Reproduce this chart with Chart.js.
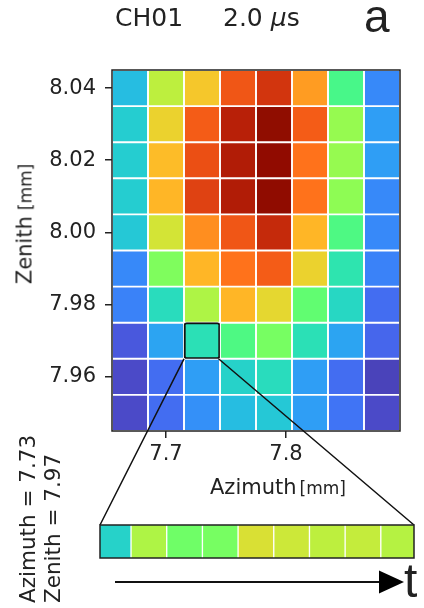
<!DOCTYPE html>
<html>
<head>
<meta charset="utf-8">
<script src="https://cdn.jsdelivr.net/npm/chart.js@4"></script>
<style>
  html, body { margin: 0; padding: 0; background: #fff; }
  #page { position: relative; width: 424px; height: 608px; overflow: hidden; font-family: "DejaVu Sans", sans-serif; color: #222; }
  canvas { position: absolute; }
  #mapCanvas { left: 0; top: 0; z-index: 1; }
  #stripCanvas { left: 96px; top: 521px; z-index: 2; }
  .txt { position: absolute; white-space: nowrap; line-height: 1; z-index: 3; }
</style>
</head>
<body>
<div id="page">
  <canvas id="mapCanvas" width="424" height="608"></canvas>
  <canvas id="stripCanvas" width="322" height="41"></canvas>

  <div class="txt" style="left:115px; top:5px; font-size:25px;">CH01</div>
  <div class="txt" style="left:223px; top:5px; font-size:25px;">2.0 <i>μ</i>s</div>
  <div class="txt" style="left:364px; top:-7px; font-size:46px; font-family:'Liberation Sans', Arial, sans-serif;">a</div>

  <div class="txt" style="left:25px; top:224px; font-size:21px; transform:translate(-50%,-50%) rotate(-90deg);">Zenith<span style="font-size:17px; margin-left:6px;">[mm]</span></div>
  <div class="txt" style="left:210px; top:477px; font-size:21px;">Azimuth<span style="font-size:17px; margin-left:3px;">[mm]</span></div>

  <div class="txt" style="left:15px; top:603px; font-size:21.5px; line-height:25px; transform-origin:0 0; transform:rotate(-90deg);">Azimuth = 7.73<br>Zenith = 7.97</div>

  <div class="txt" style="left:404px; top:557px; font-size:48px; font-family:'Liberation Sans', Arial, sans-serif;">t</div>
</div>

<script>
    // --- DADOS ---
    const azimuth = [7.67, 7.70, 7.73, 7.76, 7.79, 7.82, 7.85, 7.88];
    const zenith = [8.04, 8.03, 8.02, 8.01, 8.00, 7.99, 7.98, 7.97, 7.96, 7.95];
    // intensidade normalizada (0..1), uma linha por zenith, de cima para baixo
    const intensity = [
        [0.25, 0.55, 0.64, 0.81, 0.86, 0.71, 0.39, 0.17],
        [0.28, 0.62, 0.80, 0.90, 1.00, 0.80, 0.50, 0.20],
        [0.28, 0.66, 0.82, 0.91, 0.98, 0.77, 0.50, 0.20],
        [0.28, 0.67, 0.84, 0.91, 0.99, 0.77, 0.49, 0.17],
        [0.27, 0.58, 0.73, 0.81, 0.88, 0.67, 0.40, 0.17],
        [0.17, 0.47, 0.67, 0.77, 0.80, 0.62, 0.33, 0.16],
        [0.16, 0.31, 0.53, 0.67, 0.61, 0.43, 0.30, 0.13],
        [0.10, 0.21, 0.32, 0.40, 0.46, 0.32, 0.21, 0.12],
        [0.08, 0.13, 0.20, 0.29, 0.31, 0.20, 0.13, 0.07],
        [0.08, 0.13, 0.18, 0.25, 0.27, 0.20, 0.14, 0.08]
    ];
    const xTicks = [7.7, 7.8];
    const yTicks = [7.96, 7.98, 8.00, 8.02, 8.04];
    const selAzimuth = 7.73;
    const selZenith = 7.97;
    // série temporal do pixel selecionado
    const timeSteps = [0, 1, 2, 3, 4, 5, 6, 7, 8];
    const stripValues = [0.29, 0.53, 0.45, 0.46, 0.59, 0.57, 0.55, 0.56, 0.54];

    // --- COLORMAP (turbo) ---
    function turbo(v) {
        const x = Math.max(0, Math.min(1, v));
        const r = 0.13572138 + x * (4.61539260 + x * (-42.66032258 + x * (132.13108234 + x * (-152.94239396 + x * 59.28637943))));
        const g = 0.09140261 + x * (2.19418839 + x * (4.84296658 + x * (-14.18503333 + x * (4.27729857 + x * 2.82956604))));
        const b = 0.10667330 + x * (12.64194608 + x * (-60.58204836 + x * (110.36276771 + x * (-89.90310912 + x * 27.34824973))));
        const c = t => Math.round(Math.max(0, Math.min(1, t)) * 255);
        return `rgb(${c(r)},${c(g)},${c(b)})`;
    }

    const dAz = azimuth[1] - azimuth[0];
    const dZe = zenith[0] - zenith[1];

    const cells = [];
    zenith.forEach((ze, r) => {
        azimuth.forEach((az, c) => {
            cells.push({ x: az, y: [ze - dZe / 2, ze + dZe / 2], v: intensity[r][c] });
        });
    });
    const isSel = p => p && Math.abs(p.x - selAzimuth) < 1e-6 && Math.abs((p.y[0] + p.y[1]) / 2 - selZenith) < 1e-6;

    const framePlugin = {
        id: 'frame',
        afterDatasetsDraw(chart) {
            const a = chart.chartArea, ctx = chart.ctx;
            ctx.save();
            ctx.strokeStyle = '#222';
            ctx.lineWidth = 1.5;
            ctx.strokeRect(a.left, a.top, a.right - a.left, a.bottom - a.top);
            ctx.restore();
        }
    };

    // --- FAIXA TEMPORAL ---
    const stripChart = new Chart(document.getElementById('stripCanvas'), {
        type: 'bar',
        data: {
            datasets: [{
                data: timeSteps.map(t => ({ x: t, y: [0, 1] })),
                backgroundColor: stripValues.map(turbo),
                borderColor: '#ffffff',
                borderWidth: { left: 1, right: 1, top: 0, bottom: 0 },
                borderSkipped: false,
                categoryPercentage: 1,
                barPercentage: 1
            }]
        },
        options: {
            responsive: false,
            animation: false,
            layout: { padding: 4 },
            plugins: { legend: { display: false }, tooltip: { enabled: false } },
            scales: {
                x: { type: 'linear', min: -0.37, max: 8.43, offset: false, display: false },
                y: { min: 0, max: 1, display: false }
            }
        },
        plugins: [framePlugin]
    });

    // linhas de zoom e seta do tempo
    const zoomPlugin = {
        id: 'zoomLines',
        afterDraw(chart) {
            const ctx = chart.ctx;
            const xs = chart.scales.x, ys = chart.scales.y;
            const sc = document.getElementById('stripCanvas');
            const sa = stripChart.chartArea;
            const sl = sc.offsetLeft + sa.left, sr = sc.offsetLeft + sa.right;
            const st = sc.offsetTop + sa.top, sb = sc.offsetTop + sa.bottom;
            const bx0 = xs.getPixelForValue(selAzimuth - dAz / 2);
            const bx1 = xs.getPixelForValue(selAzimuth + dAz / 2) - 1.5;
            const by = ys.getPixelForValue(selZenith - dZe / 2);
            ctx.save();
            ctx.strokeStyle = '#111';
            ctx.lineWidth = 1.5;
            ctx.beginPath();
            ctx.moveTo(bx0, by); ctx.lineTo(sl, st);
            ctx.moveTo(bx1, by); ctx.lineTo(sr, st);
            ctx.stroke();
            // seta
            const ay = sb + 24;
            ctx.lineWidth = 2;
            ctx.beginPath();
            ctx.moveTo(sl + 15, ay); ctx.lineTo(sr - 30, ay);
            ctx.stroke();
            ctx.fillStyle = '#000';
            ctx.beginPath();
            ctx.moveTo(sr - 35, ay - 11.5);
            ctx.lineTo(sr - 10, ay);
            ctx.lineTo(sr - 35, ay + 11.5);
            ctx.closePath();
            ctx.fill();
            ctx.restore();
        }
    };

    // --- MAPA ---
    const tickFont = { family: 'DejaVu Sans', size: 21 };
    new Chart(document.getElementById('mapCanvas'), {
        type: 'bar',
        data: {
            datasets: [{
                data: cells,
                backgroundColor: cells.map(p => turbo(p.v)),
                borderColor: ctx => isSel(ctx.raw) ? '#111' : '#ffffff',
                borderWidth: ctx => isSel(ctx.raw) ? 2 : 1.3,
                borderRadius: ctx => isSel(ctx.raw) ? 3 : 0,
                borderSkipped: false,
                categoryPercentage: 1,
                barPercentage: 1,
                grouped: false
            }]
        },
        options: {
            responsive: false,
            animation: false,
            layout: { padding: { left: 0, top: 70, right: 24, bottom: 117 } },
            plugins: { legend: { display: false }, tooltip: { enabled: false } },
            scales: {
                x: {
                    type: 'linear',
                    min: azimuth[0] - dAz / 2,
                    max: azimuth[azimuth.length - 1] + dAz / 2,
                    offset: false,
                    afterBuildTicks: s => { s.ticks = xTicks.map(v => ({ value: v })); },
                    afterFit: s => { s.height = 60; },
                    border: { display: false },
                    grid: { offset: false, drawOnChartArea: false, drawTicks: true, tickLength: 7, color: '#222', lineWidth: 1.5 },
                    ticks: { color: '#222', font: tickFont, padding: 4, maxRotation: 0, callback: v => v.toFixed(1) }
                },
                y: {
                    min: zenith[zenith.length - 1] - dZe / 2,
                    max: zenith[0] + dZe / 2,
                    afterBuildTicks: s => { s.ticks = yTicks.map(v => ({ value: v })); },
                    afterFit: s => { s.width = 112; },
                    border: { display: false },
                    grid: { drawOnChartArea: false, drawTicks: true, tickLength: 7, color: '#222', lineWidth: 1.5 },
                    ticks: { color: '#222', font: tickFont, padding: 9, callback: v => v.toFixed(2) }
                }
            }
        },
        plugins: [framePlugin, zoomPlugin]
    });
</script>
</body>
</html>
